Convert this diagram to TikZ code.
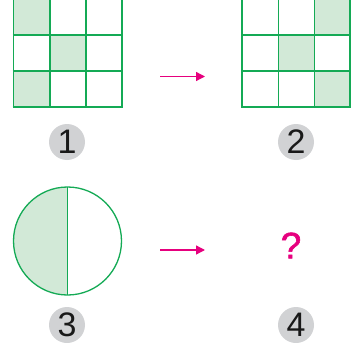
\documentclass[tikz,border=0pt]{standalone}
\usepackage{fontspec}
\setmainfont{Liberation Sans}
\newfontfamily\qfont[FakeBold=1.5]{Liberation Sans}
\usetikzlibrary{arrows.meta}
\definecolor{gline}{RGB}{20,170,85}
\definecolor{gfill}{RGB}{210,233,215}
\definecolor{lblgray}{RGB}{209,210,212}
\definecolor{mag}{RGB}{230,0,126}
\begin{document}
\begin{tikzpicture}[x=1pt,y=-1pt,
  gridline/.style={draw=gline,line width=1.8pt},
  lbl/.style={circle,fill=lblgray,minimum size=36pt,inner sep=0pt,font=\fontsize{34}{34}\selectfont,text=black!90},
  magarrow/.style={draw=mag,line width=1.3pt,-{Triangle[length=9pt,width=9pt]}}]
\useasboundingbox (0,0) rectangle (354,343);
% grid 1
\fill[gfill] (13.5,-1) rectangle (50,35);
\fill[gfill] (50,35) rectangle (86,71);
\fill[gfill] (13.5,71) rectangle (50,107);
\foreach \x in {13.5,50,86,122} \draw[gridline] (\x,-2) -- (\x,107.9);
\foreach \y in {35,71,107} \draw[gridline] (12.6,\y) -- (122.9,\y);
% grid 2
\fill[gfill] (314.5,-1) rectangle (350,35);
\fill[gfill] (278.5,35) rectangle (314.5,71);
\fill[gfill] (314.5,71) rectangle (350,107);
\foreach \x in {242,278.5,314.5,350} \draw[gridline] (\x,-2) -- (\x,107.9);
\foreach \y in {35,71,107} \draw[gridline] (241.1,\y) -- (350.9,\y);
% circle
\coordinate (cc) at (67.5,241);
\fill[gfill] (67.5,187) arc[start angle=-90,end angle=-270,radius=54];
\draw[draw=gline,line width=1.3pt] (cc) circle[radius=54];
\draw[draw=gline,line width=1.3pt] (67.5,187) -- (67.5,295);
% labels
\node[lbl] (l1) at (67,142) {1};
\node[lbl] (l2) at (296,142) {2};
\node[lbl] (l3) at (67,325) {3};
\node[lbl] (l4) at (296,325) {4};
% arrows
\coordinate (a1s) at (160,76.5);
\coordinate (a1e) at (205,76.5);
\draw[magarrow] (a1s) -- (a1e);
\coordinate (a2s) at (160,250);
\coordinate (a2e) at (205,250);
\draw[magarrow] (a2s) -- (a2e);
\node[text=mag,font=\qfont\fontsize{37}{37}\selectfont] (q) at (291,245.5) {?};
\end{tikzpicture}
\end{document}
